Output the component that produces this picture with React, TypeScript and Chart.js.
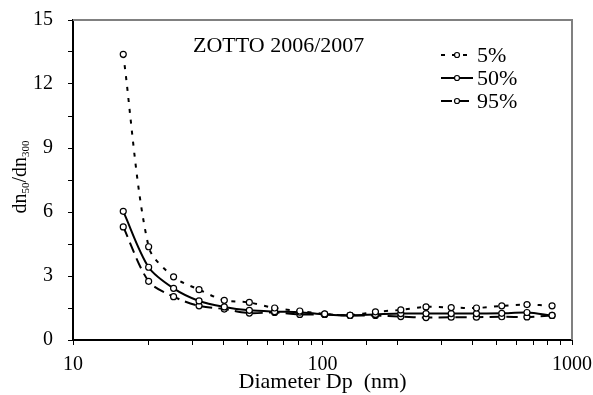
import React, { useEffect, useRef } from "react";
import { Chart, registerables } from "chart.js";

Chart.register(...registerables);

const diameters = [15.9, 20.1, 25.3, 32.0, 40.4, 50.9, 64.3, 81.1, 102, 129, 163, 206, 260, 328, 414, 523, 660, 832];
const p5 = [13.39, 4.37, 2.96, 2.36, 1.86, 1.76, 1.5, 1.36, 1.22, 1.16, 1.32, 1.41, 1.55, 1.52, 1.5, 1.6, 1.66, 1.6];
const p50 = [6.03, 3.41, 2.42, 1.83, 1.55, 1.39, 1.33, 1.3, 1.2, 1.16, 1.2, 1.24, 1.24, 1.24, 1.24, 1.25, 1.29, 1.15];
const p95 = [5.3, 2.75, 2.03, 1.6, 1.45, 1.26, 1.29, 1.2, 1.2, 1.15, 1.15, 1.1, 1.05, 1.07, 1.07, 1.09, 1.08, 1.15];
const seriesLabels = ["5%", "50%", "95%"];
const xTickLabels = [10, 100, 1000];
const yTickLabels = [0, 3, 6, 9, 12, 15];
const titleText = "ZOTTO 2006/2007";
const xTitle = "Diameter Dp  (nm)";

const SERIF = "'Liberation Serif', 'DejaVu Serif', serif";
const dashes = [[4, 7], [], [11, 6]];

const overlay = {
  id: "overlay",
  afterDraw(chart: any) {
    const { ctx, chartArea } = chart;
    const { left, right, top, bottom } = chartArea;
    ctx.save();
    ctx.strokeStyle = "#808080";
    ctx.lineWidth = 2;
    ctx.beginPath();
    ctx.moveTo(left, top);
    ctx.lineTo(right, top);
    ctx.lineTo(right, bottom);
    ctx.stroke();

    ctx.fillStyle = "#000";
    ctx.font = `22px ${SERIF}`;
    ctx.textAlign = "left";
    ctx.textBaseline = "middle";
    ctx.fillText(titleText, 193, 46);

    const rows = [55, 78, 101];
    seriesLabels.forEach((lab, i) => {
      const y = rows[i];
      ctx.strokeStyle = "#000";
      ctx.lineWidth = 2;
      ctx.setLineDash(dashes[i]);
      ctx.beginPath();
      ctx.moveTo(441, y);
      ctx.lineTo(473, y);
      ctx.stroke();
      ctx.setLineDash([]);
      ctx.beginPath();
      ctx.arc(457, y, 2.5, 0, Math.PI * 2);
      ctx.fillStyle = "#fff";
      ctx.fill();
      ctx.lineWidth = 1.2;
      ctx.stroke();
      ctx.fillStyle = "#000";
      ctx.font = `22px ${SERIF}`;
      ctx.textAlign = "left";
      ctx.textBaseline = "middle";
      ctx.fillText(lab, 477, y + 1);
    });

    ctx.font = `22px ${SERIF}`;
    ctx.textAlign = "center";
    ctx.textBaseline = "middle";
    ctx.fillText(xTitle, (left + right) / 2, 382);

    const parts: [string, boolean][] = [["dn", false], ["50", true], ["/dn", false], ["300", true]];
    const big = `20px ${SERIF}`;
    const small = `11px ${SERIF}`;
    let total = 0;
    parts.forEach(([t, sub]) => {
      ctx.font = sub ? small : big;
      total += ctx.measureText(t).width;
    });
    ctx.translate(20, 177);
    ctx.rotate(-Math.PI / 2);
    ctx.textAlign = "left";
    ctx.textBaseline = "alphabetic";
    let x = -total / 2;
    parts.forEach(([t, sub]) => {
      ctx.font = sub ? small : big;
      ctx.fillText(t, x, sub ? 9 : 6);
      x += ctx.measureText(t).width;
    });
    ctx.restore();
  },
};

export default function App() {
  const ref = useRef<HTMLCanvasElement>(null);
  useEffect(() => {
    const mk = (vals: number[]) => diameters.map((d, i) => ({ x: d, y: vals[i] }));
    const all = [p5, p50, p95];
    const chart = new Chart(ref.current!, {
      type: "line",
      data: {
        datasets: all.map((vals, i) => ({
          label: seriesLabels[i],
          data: mk(vals),
          borderColor: "#000",
          borderWidth: 2,
          borderDash: dashes[i],
          pointRadius: 3,
          pointBackgroundColor: "#fff",
          pointBorderColor: "#000",
          pointBorderWidth: 1.2,
          tension: 0.3,
          fill: false,
        })),
      },
      options: {
        animation: false,
        responsive: false,
        devicePixelRatio: 1,
        layout: { padding: { top: 20, right: 21, left: 0, bottom: 0 } },
        plugins: { legend: { display: false }, tooltip: { enabled: false }, title: { display: false } },
        scales: {
          x: {
            type: "logarithmic",
            min: 10,
            max: 1000,
            border: { color: "#000", width: 2 },
            grid: { display: true, drawOnChartArea: false, drawTicks: true, tickLength: 5, color: "#000", lineWidth: 1 },
            ticks: {
              color: "#000",
              font: { family: SERIF, size: 20 },
              padding: 8,
              maxRotation: 0,
              autoSkip: false,
              callback: (v: any) => (xTickLabels.includes(Number(v)) ? String(v) : ""),
            },
            afterFit: (s: any) => { s.height = 55; s.paddingLeft = 0; s.paddingRight = 0; },
          },
          y: {
            min: 0,
            max: 15,
            border: { color: "#000", width: 2 },
            grid: { display: true, drawOnChartArea: false, drawTicks: true, tickLength: 5, color: "#000", lineWidth: 1 },
            ticks: {
              stepSize: 1.5,
              color: "#000",
              font: { family: SERIF, size: 20 },
              padding: 15,
              autoSkip: false,
              callback: (v: any) => {
                const n = Number(v);
                return yTickLabels.some((t) => Math.abs(t - n) < 1e-6) ? String(Math.round(n)) : "";
              },
            },
            afterFit: (s: any) => { s.width = 73; s.paddingTop = 0; s.paddingBottom = 0; },
          },
        },
      },
      plugins: [overlay],
    } as any);
    return () => chart.destroy();
  }, []);
  return (
    <div style={{ position: "fixed", left: 0, top: 0, width: 593, height: 395, background: "#fff" }}>
      <canvas ref={ref} width={593} height={395} style={{ width: 593, height: 395, display: "block" }} />
    </div>
  );
}
